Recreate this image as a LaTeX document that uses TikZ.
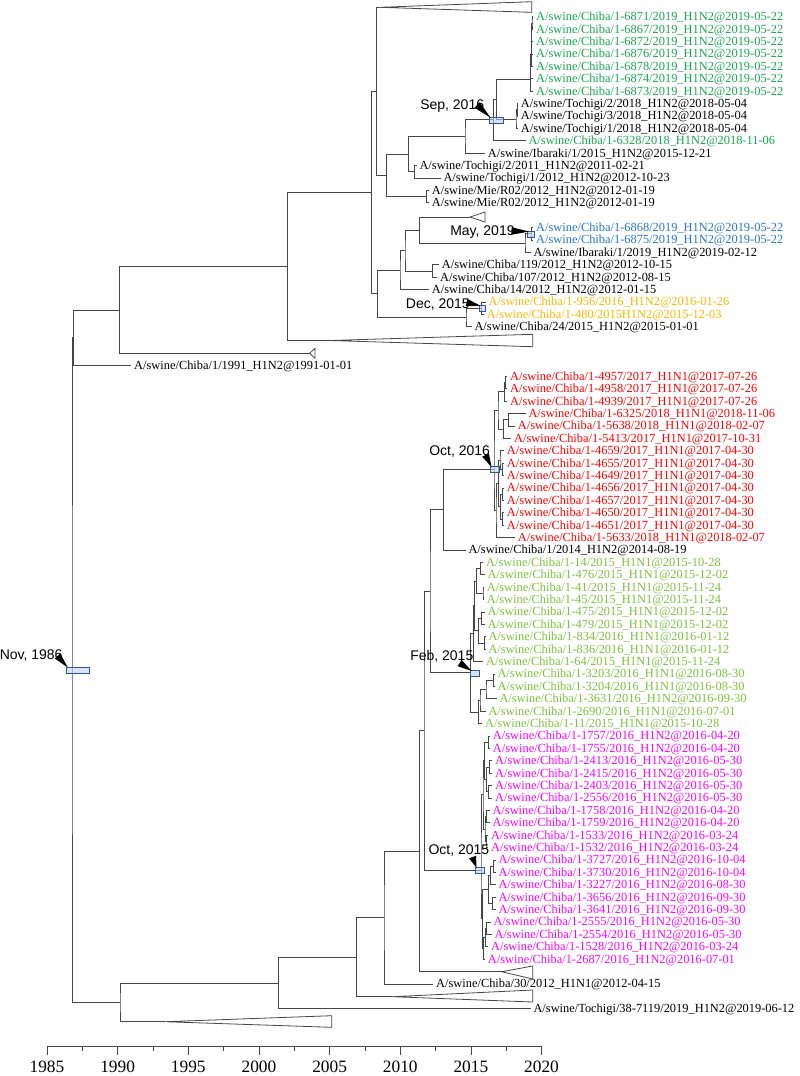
\documentclass[tikz,border=0pt]{standalone}
\usepackage{fontspec}
\setmainfont{Liberation Serif}
\newfontfamily\datefont{Liberation Sans}
\usetikzlibrary{calc}
\definecolor{brgray}{RGB}{70,70,70}
\definecolor{grn}{RGB}{22,168,78}
\definecolor{blu}{RGB}{35,120,200}
\definecolor{ylw}{RGB}{248,184,0}
\definecolor{rd}{RGB}{255,0,0}
\definecolor{lgrn}{RGB}{125,192,60}
\definecolor{mag}{RGB}{255,0,255}
\definecolor{hpdline}{RGB}{45,85,160}
\definecolor{hpdfill}{RGB}{190,208,238}
\newcommand{\pointer}[2]{%
  \coordinate (ptip) at ($(#2.north west)+(2,1)$);
  \fill ($(#1)!2.8pt!90:(ptip)$) -- (ptip) -- ($(#1)!2.8pt!-90:(ptip)$) -- cycle;}

\begin{document}
\begin{tikzpicture}[x=0.75pt, y=-0.75pt,
    br/.style={draw=brgray, line width=0.6pt},
    leaf/.style={anchor=west, inner xsep=2pt, inner ysep=0pt, text height=6.1pt, text depth=0pt, font=\fontsize{9.3}{11}\selectfont},
    leafg/.style={leaf, text=grn}, leafb/.style={leaf, text=blu}, leafy/.style={leaf, text=ylw},
    leafr/.style={leaf, text=rd}, leafl/.style={leaf, text=lgrn}, leafm/.style={leaf, text=mag},
    datelbl/.style={anchor=base west, inner sep=0pt, font=\datefont\fontsize{10.5}{12}\selectfont},
    hpd/.style={draw=hpdline, fill=hpdfill, fill opacity=0.6, line width=0.7pt, inner sep=0pt, minimum height=4.5pt},
    yearlbl/.style={anchor=base, inner sep=0pt, font=\fontsize{13}{14}\selectfont}]
    \useasboundingbox (0,0) rectangle (800,1076);

    \node[leafg] (c6871) at (533.3,16.7) {A/swine/Chiba/1-6871/2019\_H1N2@2019-05-22};
    \node[leafg] (c6867) at (533.3,29.1) {A/swine/Chiba/1-6867/2019\_H1N2@2019-05-22};
    \node[leafg] (c6872) at (533.3,41.5) {A/swine/Chiba/1-6872/2019\_H1N2@2019-05-22};
    \node[leafg] (c6876) at (533.3,53.9) {A/swine/Chiba/1-6876/2019\_H1N2@2019-05-22};
    \node[leafg] (c6878) at (533.3,66.3) {A/swine/Chiba/1-6878/2019\_H1N2@2019-05-22};
    \node[leafg] (c6874) at (533.3,78.7) {A/swine/Chiba/1-6874/2019\_H1N2@2019-05-22};
    \node[leafg] (c6873) at (533.3,91.1) {A/swine/Chiba/1-6873/2019\_H1N2@2019-05-22};
    \node[leaf] (tg2a) at (518,103.5) {A/swine/Tochigi/2/2018\_H1N2@2018-05-04};
    \node[leaf] (tg3a) at (518,115.9) {A/swine/Tochigi/3/2018\_H1N2@2018-05-04};
    \node[leaf] (tg1a) at (518,128.3) {A/swine/Tochigi/1/2018\_H1N2@2018-05-04};
    \node[leafg] (c6328) at (525.6,140.7) {A/swine/Chiba/1-6328/2018\_H1N2@2018-11-06};
    \node[leaf] (ib15) at (485,153.1) {A/swine/Ibaraki/1/2015\_H1N2@2015-12-21};
    \node[leaf] (tg11) at (416.6,165.5) {A/swine/Tochigi/2/2011\_H1N2@2011-02-21};
    \node[leaf] (tg12) at (440.6,177.9) {A/swine/Tochigi/1/2012\_H1N2@2012-10-23};
    \node[leaf] (mieA) at (429,190.3) {A/swine/Mie/R02/2012\_H1N2@2012-01-19};
    \node[leaf] (mieB) at (429,202.7) {A/swine/Mie/R02/2012\_H1N2@2012-01-19};
    \node[leafb] (c6868) at (533.3,227.5) {A/swine/Chiba/1-6868/2019\_H1N2@2019-05-22};
    \node[leafb] (c6875) at (533.3,239.9) {A/swine/Chiba/1-6875/2019\_H1N2@2019-05-22};
    \node[leaf] (ib19) at (530.6,252.3) {A/swine/Ibaraki/1/2019\_H1N2@2019-02-12};
    \node[leaf] (c119) at (439,264.7) {A/swine/Chiba/119/2012\_H1N2@2012-10-15};
    \node[leaf] (c107) at (437.3,277.1) {A/swine/Chiba/107/2012\_H1N2@2012-08-15};
    \node[leaf] (c14) at (429,289.5) {A/swine/Chiba/14/2012\_H1N2@2012-01-15};
    \node[leafy] (c956) at (485.6,301.9) {A/swine/Chiba/1-956/2016\_H1N2@2016-01-26};
    \node[leafy] (c480) at (484,314.3) {A/swine/Chiba/1-480/2015H1N2@2015-12-03};
    \node[leaf] (c24) at (471.6,326.7) {A/swine/Chiba/24/2015\_H1N2@2015-01-01};
    \node[leaf] (c1991) at (131.3,365) {A/swine/Chiba/1/1991\_H1N2@1991-01-01};

    \node[leafr] (c4957) at (507.3,376.3) {A/swine/Chiba/1-4957/2017\_H1N1@2017-07-26};
    \node[leafr] (c4958) at (507.3,388.7) {A/swine/Chiba/1-4958/2017\_H1N1@2017-07-26};
    \node[leafr] (c4939) at (507.3,401.1) {A/swine/Chiba/1-4939/2017\_H1N1@2017-07-26};
    \node[leafr] (c6325) at (525.6,413.5) {A/swine/Chiba/1-6325/2018\_H1N1@2018-11-06};
    \node[leafr] (c5638) at (515,425.9) {A/swine/Chiba/1-5638/2018\_H1N1@2018-02-07};
    \node[leafr] (c5413) at (511.3,438.3) {A/swine/Chiba/1-5413/2017\_H1N1@2017-10-31};
    \node[leafr] (c4659) at (504,450.7) {A/swine/Chiba/1-4659/2017\_H1N1@2017-04-30};
    \node[leafr] (c4655) at (504,463.1) {A/swine/Chiba/1-4655/2017\_H1N1@2017-04-30};
    \node[leafr] (c4649) at (504,475.5) {A/swine/Chiba/1-4649/2017\_H1N1@2017-04-30};
    \node[leafr] (c4656) at (504,487.9) {A/swine/Chiba/1-4656/2017\_H1N1@2017-04-30};
    \node[leafr] (c4657) at (504,500.3) {A/swine/Chiba/1-4657/2017\_H1N1@2017-04-30};
    \node[leafr] (c4650) at (504,512.7) {A/swine/Chiba/1-4650/2017\_H1N1@2017-04-30};
    \node[leafr] (c4651) at (504,525.1) {A/swine/Chiba/1-4651/2017\_H1N1@2017-04-30};
    \node[leafr] (c5633) at (515,537.5) {A/swine/Chiba/1-5633/2018\_H1N1@2018-02-07};
    \node[leaf] (c1a14) at (465.6,549.9) {A/swine/Chiba/1/2014\_H1N2@2014-08-19};

    \node[leafl] (c14b) at (483.3,562.3) {A/swine/Chiba/1-14/2015\_H1N1@2015-10-28};
    \node[leafl] (c476) at (484.6,574.7) {A/swine/Chiba/1-476/2015\_H1N1@2015-12-02};
    \node[leafl] (c41) at (484,587.1) {A/swine/Chiba/1-41/2015\_H1N1@2015-11-24};
    \node[leafl] (c45) at (484,599.5) {A/swine/Chiba/1-45/2015\_H1N1@2015-11-24};
    \node[leafl] (c475) at (484.6,611.9) {A/swine/Chiba/1-475/2015\_H1N1@2015-12-02};
    \node[leafl] (c479) at (484.6,624.3) {A/swine/Chiba/1-479/2015\_H1N1@2015-12-02};
    \node[leafl] (c834) at (485.6,636.7) {A/swine/Chiba/1-834/2016\_H1N1@2016-01-12};
    \node[leafl] (c836) at (485.6,649.1) {A/swine/Chiba/1-836/2016\_H1N1@2016-01-12};
    \node[leafl] (c64) at (483.3,661.5) {A/swine/Chiba/1-64/2015\_H1N1@2015-11-24};
    \node[leafl] (c3203) at (494.6,673.9) {A/swine/Chiba/1-3203/2016\_H1N1@2016-08-30};
    \node[leafl] (c3204) at (494.6,686.3) {A/swine/Chiba/1-3204/2016\_H1N1@2016-08-30};
    \node[leafl] (c3631) at (496.6,698.7) {A/swine/Chiba/1-3631/2016\_H1N2@2016-09-30};
    \node[leafl] (c2690) at (485.6,711.1) {A/swine/Chiba/1-2690/2016\_H1N1@2016-07-01};
    \node[leafl] (c11) at (482.3,723.5) {A/swine/Chiba/1-11/2015\_H1N1@2015-10-28};

    \node[leafm] (c1757) at (490,735.9) {A/swine/Chiba/1-1757/2016\_H1N2@2016-04-20};
    \node[leafm] (c1755) at (490,748.3) {A/swine/Chiba/1-1755/2016\_H1N2@2016-04-20};
    \node[leafm] (c2413) at (492.3,760.7) {A/swine/Chiba/1-2413/2016\_H1N2@2016-05-30};
    \node[leafm] (c2415) at (492.3,773.1) {A/swine/Chiba/1-2415/2016\_H1N2@2016-05-30};
    \node[leafm] (c2403) at (492.3,785.5) {A/swine/Chiba/1-2403/2016\_H1N2@2016-05-30};
    \node[leafm] (c2556) at (492.3,797.9) {A/swine/Chiba/1-2556/2016\_H1N2@2016-05-30};
    \node[leafm] (c1758) at (489.6,810.3) {A/swine/Chiba/1-1758/2016\_H1N2@2016-04-20};
    \node[leafm] (c1759) at (489.6,822.7) {A/swine/Chiba/1-1759/2016\_H1N2@2016-04-20};
    \node[leafm] (c1533) at (488.3,835.1) {A/swine/Chiba/1-1533/2016\_H1N2@2016-03-24};
    \node[leafm] (c1532) at (488.3,847.5) {A/swine/Chiba/1-1532/2016\_H1N2@2016-03-24};
    \node[leafm] (c3727) at (495.6,859.9) {A/swine/Chiba/1-3727/2016\_H1N2@2016-10-04};
    \node[leafm] (c3730) at (495.6,872.3) {A/swine/Chiba/1-3730/2016\_H1N2@2016-10-04};
    \node[leafm] (c3227) at (495.6,884.7) {A/swine/Chiba/1-3227/2016\_H1N2@2016-08-30};
    \node[leafm] (c3656) at (495.6,897.1) {A/swine/Chiba/1-3656/2016\_H1N2@2016-09-30};
    \node[leafm] (c3641) at (495.6,909.5) {A/swine/Chiba/1-3641/2016\_H1N2@2016-09-30};
    \node[leafm] (c2555) at (490.6,921.9) {A/swine/Chiba/1-2555/2016\_H1N2@2016-05-30};
    \node[leafm] (c2554) at (491.6,934.3) {A/swine/Chiba/1-2554/2016\_H1N2@2016-05-30};
    \node[leafm] (c1528) at (488.3,946.7) {A/swine/Chiba/1-1528/2016\_H1N2@2016-03-24};
    \node[leafm] (c2687) at (485,959.1) {A/swine/Chiba/1-2687/2016\_H1N2@2016-07-01};
    \node[leaf] (c30) at (433.3,983.9) {A/swine/Chiba/30/2012\_H1N1@2012-04-15};
    \node[leaf] (tg38) at (530.6,1008.7) {A/swine/Tochigi/38-7119/2019\_H1N2@2019-06-12};

    \coordinate (cTop) at (380,7.3);
    \coordinate (c16) at (470,217);
    \coordinate (c26) at (330,340.5);
    \coordinate (c27) at (309.7,353.3);
    \coordinate (c77) at (501.7,971.7);
    \coordinate (c79) at (393,996.7);
    \coordinate (c81) at (165,1021.7);
    \draw[br] (cTop) -- (531.7,1.7) -- (531.7,12.3) -- cycle;
    \draw[br] (c16) -- (485,212) -- (485,222) -- cycle;
    \draw[br] (c26) -- (532.7,334.3) -- (532.7,346.7) -- cycle;
    \draw[br] (c27) -- (315,348.3) -- (315,358.3) -- cycle;
    \draw[br] (c77) -- (532.7,966) -- (532.7,979) -- cycle;
    \draw[br] (c79) -- (532.7,990) -- (532.7,1002) -- cycle;
    \draw[br] (c81) -- (331.7,1015.7) -- (331.7,1027.3) -- cycle;

    \coordinate (g1) at (532,22.9);
    \coordinate (g2) at (531.7,32.2);
    \coordinate (g3) at (531.4,43.05);
    \coordinate (g4) at (531.1,54.7);
    \coordinate (g5) at (530.8,66.7);
    \coordinate (g6) at (530.5,78.9);
    \coordinate (nTg2) at (517.3,109.7);
    \coordinate (nTg) at (516,119);
    \coordinate (nUp8) at (496.7,98.95);
    \coordinate (nSep) at (493.3,119.8);
    \coordinate (nUp7) at (465,136.45);
    \coordinate (nTg11) at (414.3,171.7);
    \coordinate (nUp6) at (408.3,154.1);
    \coordinate (nMie) at (426.7,196.5);
    \coordinate (nUp5) at (386.7,175.3);
    \coordinate (nUp4) at (376.7,91.3);
    \coordinate (nMay) at (531,233.7);
    \coordinate (nMay2) at (525,243);
    \coordinate (nMid4) at (419.3,230);
    \coordinate (nC12) at (432.7,270.9);
    \coordinate (nMid3) at (405,250.45);
    \coordinate (nMid2) at (400,269.95);
    \coordinate (nDec) at (481,308.1);
    \coordinate (nMid5) at (466,317.4);
    \coordinate (nMid1) at (377.3,293.7);
    \coordinate (nUp3) at (371.7,192.5);
    \coordinate (nUp2) at (287.7,266.5);
    \coordinate (nUp1) at (119.3,309.9);
    \coordinate (nH1N2) at (73.3,337.45);
    \coordinate (nRoot) at (72,669.9);

    \coordinate (r1) at (505.5,382.5);
    \coordinate (r2) at (504.3,391.8);
    \coordinate (r3) at (508.3,419.7);
    \coordinate (r4) at (503.3,429);
    \coordinate (r5) at (498,410.4);
    \coordinate (r6) at (502.5,469.3);
    \coordinate (r7) at (502.5,494.1);
    \coordinate (r8) at (502.5,518.9);
    \coordinate (r9) at (500.5,506.5);
    \coordinate (r10) at (500,460);
    \coordinate (r11) at (498.5,483.25);
    \coordinate (r12) at (496,510.4);
    \coordinate (nOct16) at (494,469);
    \coordinate (nLow8) at (443.3,509.45);
    \coordinate (lg1) at (480.7,568.5);
    \coordinate (lg2) at (483,593.3);
    \coordinate (lg3) at (476.7,580.9);
    \coordinate (lg4) at (481.5,618.1);
    \coordinate (lg5) at (484.3,642.9);
    \coordinate (lg6) at (478.5,630.5);
    \coordinate (lg7) at (474.5,605.7);
    \coordinate (lg8) at (473.3,633.6);
    \coordinate (lg9) at (493.3,680.1);
    \coordinate (lg10) at (486,689.4);
    \coordinate (lg11) at (480,700.25);
    \coordinate (lg12) at (478.3,711.9);
    \coordinate (nFeb) at (470.5,672.75);
    \coordinate (nLow7) at (430,591.1);
    \coordinate (m1) at (488.3,742.1);
    \coordinate (m2) at (489.3,766.9);
    \coordinate (m3) at (488.3,791.7);
    \coordinate (m4) at (486.5,779.3);
    \coordinate (m5) at (486.3,816.5);
    \coordinate (m6) at (486.7,841.3);
    \coordinate (m7) at (485,828.9);
    \coordinate (m8) at (484.5,760.7);
    \coordinate (m9) at (483,794.8);
    \coordinate (m10) at (493.3,866.1);
    \coordinate (m11) at (490.5,875.4);
    \coordinate (m12) at (492.7,903.3);
    \coordinate (m13) at (488.5,889.35);
    \coordinate (m14) at (486.7,928.1);
    \coordinate (m15) at (485.5,937.4);
    \coordinate (m16) at (483.5,948.25);
    \coordinate (m17) at (482.3,918.8);
    \coordinate (nOct15) at (481,870);
    \coordinate (nLow6) at (424,730.55);
    \coordinate (nLow5) at (419.3,851.1);
    \coordinate (nLow4) at (384,917.5);
    \coordinate (nLow3) at (356.7,957.1);
    \coordinate (nLow2) at (278.3,982.9);
    \coordinate (nLow1) at (120,1002.3);

    \draw[br] (c6871) -| (g1) |- (c6867);
    \draw[br] (g1) -| (g2) |- (c6872);
    \draw[br] (g2) -| (g3) |- (c6876);
    \draw[br] (g3) -| (g4) |- (c6878);
    \draw[br] (g4) -| (g5) |- (c6874);
    \draw[br] (g5) -| (g6) |- (c6873);
    \draw[br] (tg2a) -| (nTg2) |- (tg3a);
    \draw[br] (nTg2) -| (nTg) |- (tg1a);
    \draw[br] (g6) -| (nUp8) |- (nTg);
    \draw[br] (nUp8) -| (nSep) |- (c6328);
    \draw[br] (nSep) -| (nUp7) |- (ib15);
    \draw[br] (tg11) -| (nTg11) |- (tg12);
    \draw[br] (nUp7) -| (nUp6) |- (nTg11);
    \draw[br] (mieA) -| (nMie) |- (mieB);
    \draw[br] (nUp6) -| (nUp5) |- (nMie);
    \draw[br] (cTop) -| (nUp4) |- (nUp5);
    \draw[br] (c6868) -| (nMay) |- (c6875);
    \draw[br] (nMay) -| (nMay2) |- (ib19);
    \draw[br] (c16) -| (nMid4) |- (nMay2);
    \draw[br] (c119) -| (nC12) |- (c107);
    \draw[br] (nMid4) -| (nMid3) |- (nC12);
    \draw[br] (nMid3) -| (nMid2) |- (c14);
    \draw[br] (c956) -| (nDec) |- (c480);
    \draw[br] (nDec) -| (nMid5) |- (c24);
    \draw[br] (nMid2) -| (nMid1) |- (nMid5);
    \draw[br] (nUp4) -| (nUp3) |- (nMid1);
    \draw[br] (nUp3) -| (nUp2) |- (c26);
    \draw[br] (nUp2) -| (nUp1) |- (c27);
    \draw[br] (nUp1) -| (nH1N2) |- (c1991);
    \draw[br] (nH1N2) -| (nRoot) |- (nLow1);

    \draw[br] (c4957) -| (r1) |- (c4958);
    \draw[br] (r1) -| (r2) |- (c4939);
    \draw[br] (c6325) -| (r3) |- (c5638);
    \draw[br] (r3) -| (r4) |- (c5413);
    \draw[br] (r2) -| (r5) |- (r4);
    \draw[br] (c4655) -| (r6) |- (c4649);
    \draw[br] (c4656) -| (r7) |- (c4657);
    \draw[br] (c4650) -| (r8) |- (c4651);
    \draw[br] (r7) -| (r9) |- (r8);
    \draw[br] (c4659) -| (r10) |- (r6);
    \draw[br] (r10) -| (r11) |- (r9);
    \draw[br] (r11) -| (r12) |- (c5633);
    \draw[br] (r5) -| (nOct16) |- (r12);
    \draw[br] (nOct16) -| (nLow8) |- (c1a14);
    \draw[br] (c14b) -| (lg1) |- (c476);
    \draw[br] (c41) -| (lg2) |- (c45);
    \draw[br] (lg1) -| (lg3) |- (lg2);
    \draw[br] (c475) -| (lg4) |- (c479);
    \draw[br] (c834) -| (lg5) |- (c836);
    \draw[br] (lg4) -| (lg6) |- (lg5);
    \draw[br] (lg3) -| (lg7) |- (lg6);
    \draw[br] (lg7) -| (lg8) |- (c64);
    \draw[br] (c3203) -| (lg9) |- (c3204);
    \draw[br] (lg9) -| (lg10) |- (c3631);
    \draw[br] (lg10) -| (lg11) |- (c2690);
    \draw[br] (lg11) -| (lg12) |- (c11);
    \draw[br] (lg8) -| (nFeb) |- (lg12);
    \draw[br] (nLow8) -| (nLow7) |- (nFeb);
    \draw[br] (c1757) -| (m1) |- (c1755);
    \draw[br] (c2413) -| (m2) |- (c2415);
    \draw[br] (c2403) -| (m3) |- (c2556);
    \draw[br] (m2) -| (m4) |- (m3);
    \draw[br] (c1758) -| (m5) |- (c1759);
    \draw[br] (c1533) -| (m6) |- (c1532);
    \draw[br] (m5) -| (m7) |- (m6);
    \draw[br] (m1) -| (m8) |- (m4);
    \draw[br] (m8) -| (m9) |- (m7);
    \draw[br] (c3727) -| (m10) |- (c3730);
    \draw[br] (m10) -| (m11) |- (c3227);
    \draw[br] (c3656) -| (m12) |- (c3641);
    \draw[br] (m11) -| (m13) |- (m12);
    \draw[br] (c2555) -| (m14) |- (c2554);
    \draw[br] (m14) -| (m15) |- (c1528);
    \draw[br] (m15) -| (m16) |- (c2687);
    \draw[br] (m13) -| (m17) |- (m16);
    \draw[br] (m9) -| (nOct15) |- (m17);
    \draw[br] (nLow7) -| (nLow6) |- (nOct15);
    \draw[br] (nLow6) -| (nLow5) |- (c77);
    \draw[br] (nLow5) -| (nLow4) |- (c30);
    \draw[br] (nLow4) -| (nLow3) |- (c79);
    \draw[br] (nLow3) -| (nLow2) |- (tg38);
    \draw[br] (nLow2) -| (nLow1) |- (c81);

    \node[hpd, minimum width=17.25pt] (hNov) at (77.8,670) {};
    \node[hpd, minimum width=10.5pt, minimum height=4.7pt] (hSep) at (496.3,120.5) {};
    \node[hpd, minimum width=5pt] (hMay) at (531,234) {};
    \node[hpd, minimum width=4.5pt] (hDec) at (482,308.3) {};
    \node[hpd, minimum width=6.75pt] (hOct16) at (494.5,469.5) {};
    \node[hpd, minimum width=6.75pt, minimum height=4.7pt] (hFeb) at (474.5,673.5) {};
    \node[hpd, minimum width=6.75pt] (hOct15) at (479.5,870.3) {};

    \node[datelbl] (dNov) at (-0.5,659.5) {Nov, 1986};
    \node[datelbl] (dSep) at (420,109.5) {Sep, 2016};
    \node[datelbl] (dMay) at (450,235) {May, 2019};
    \node[datelbl] (dDec) at (405.7,308) {Dec, 2015};
    \node[datelbl] (dOct16) at (429,455) {Oct, 2016};
    \node[datelbl] (dFeb) at (410,660) {Feb, 2015};
    \node[datelbl] (dOct15) at (428.3,854) {Oct, 2015};
    \coordinate (wNov) at ($(dNov.base east)+(-5.3,-3.5)$);
    \coordinate (wSep) at ($(dSep.base east)+(-7.3,-4.5)$);
    \coordinate (wMay) at ($(dMay.base east)+(-3.4,-4)$);
    \coordinate (wDec) at ($(dDec.base east)+(-3.5,-5.5)$);
    \coordinate (wOct16) at ($(dOct16.base east)+(-4.7,0)$);
    \coordinate (wFeb) at ($(dFeb.base east)+(-14,3)$);
    \coordinate (wOct15) at ($(dOct15.base east)+(-17,3)$);
    \pointer{wNov}{hNov}
    \pointer{wSep}{hSep}
    \pointer{wMay}{hMay}
    \pointer{wDec}{hDec}
    \pointer{wOct16}{hOct16}
    \pointer{wFeb}{hFeb}
    \pointer{wOct15}{hOct15}

    \draw[br] (47,1046.7) -- (541.6,1046.7);
    \foreach \k in {0,...,7} {
        \draw[br] ({47+70.65*\k},1046.7) -- ++(0,7.8);
        \node[yearlbl] (yr\k) at ({47+70.65*\k},1072.5) {\the\numexpr1985+5*\k\relax};
    }
    \foreach \k in {0,...,6} {
        \draw[br] ({82.3+70.65*\k},1046.7) -- ++(0,4);
    }
\end{tikzpicture}
\end{document}
